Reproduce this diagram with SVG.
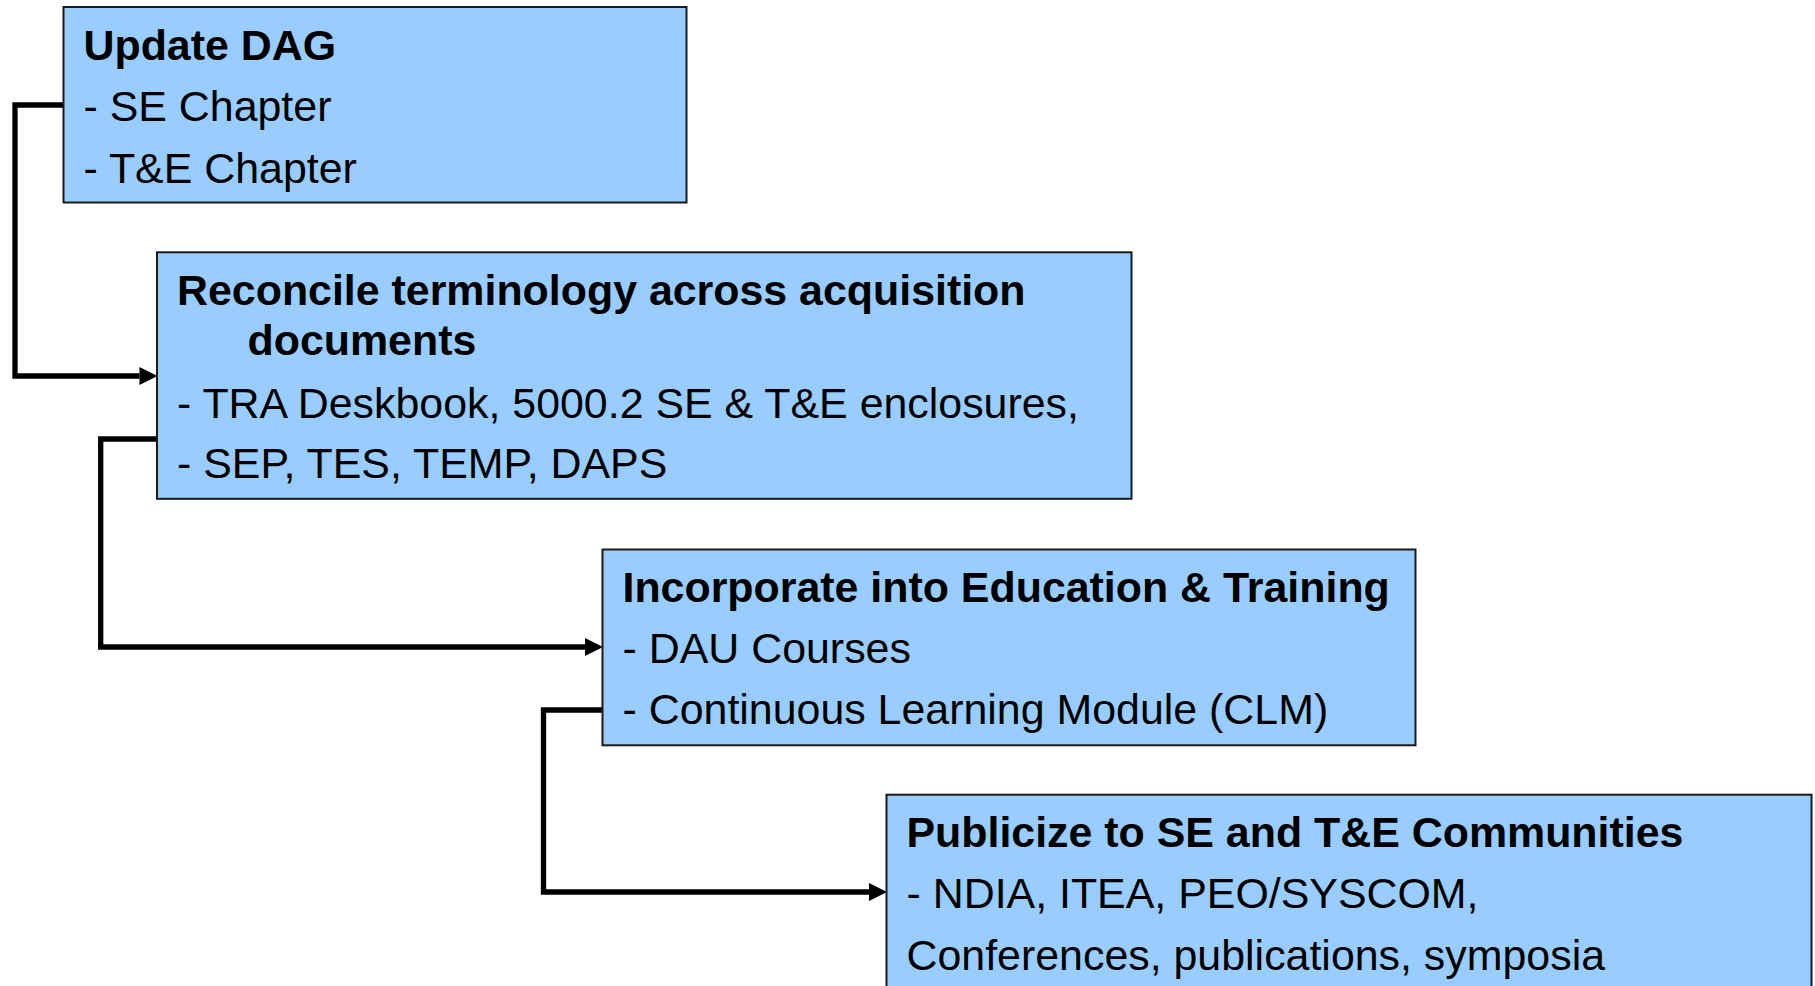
<svg xmlns="http://www.w3.org/2000/svg" width="1815" height="986" viewBox="0 0 1815 986">
<style>
.box{fill:#99CCFF;stroke:#1a1a1a;stroke-width:2}
.t{font-family:"Liberation Sans",Arial,sans-serif;font-size:42.9px;fill:#000}
.b{font-weight:bold}
.c{fill:none;stroke:#000;stroke-width:5.3;stroke-linejoin:miter}
</style>
<defs>
<marker id="ah" markerUnits="userSpaceOnUse" markerWidth="20" markerHeight="20" refX="0" refY="9" orient="auto" overflow="visible">
<path d="M0,0 L18,9 L0,18 Z" fill="#000"/>
</marker>
</defs>
<rect width="1815" height="986" fill="#fff"/>
<g id="connectors">
<polyline class="c" points="64,105 15,105 15,376 139.5,376" marker-end="url(#ah)"/>
<polyline class="c" points="160,439 100.7,439 100.7,647 585,647" marker-end="url(#ah)"/>
<polyline class="c" points="603,710 543.5,710 543.5,892 869,892" marker-end="url(#ah)"/>
</g>
<g id="node1">
<rect class="box" x="63.5" y="7" width="623" height="195.5"/>
<text class="t b" x="83.5" y="59.5">Update DAG</text>
<text class="t" x="83.5" y="121">- SE Chapter</text>
<text class="t" x="83.5" y="182.5">- T&amp;E Chapter</text>
</g>
<g id="node2">
<rect class="box" x="157" y="252.3" width="974.5" height="246.5"/>
<text class="t b" x="177" y="305">Reconcile terminology across acquisition</text>
<text class="t b" x="247.5" y="355">documents</text>
<text class="t" x="177" y="417.7">- TRA Deskbook, 5000.2 SE &amp; T&amp;E enclosures,</text>
<text class="t" x="177" y="478.3">- SEP, TES, TEMP, DAPS</text>
</g>
<g id="node3">
<rect class="box" x="602.5" y="549.5" width="813" height="195.8"/>
<text class="t b" x="622.5" y="601.7">Incorporate into Education &amp; Training</text>
<text class="t" x="622.5" y="662.7">- DAU Courses</text>
<text class="t" x="622.5" y="724.3">- Continuous Learning Module (CLM)</text>
</g>
<g id="node4">
<rect class="box" x="886.5" y="794.7" width="925" height="220"/>
<text class="t b" x="906.5" y="846.7">Publicize to SE and T&amp;E Communities</text>
<text class="t" x="906.5" y="908">- NDIA, ITEA, PEO/SYSCOM,</text>
<text class="t" x="906.5" y="970">Conferences, publications, symposia</text>
</g>
</svg>
